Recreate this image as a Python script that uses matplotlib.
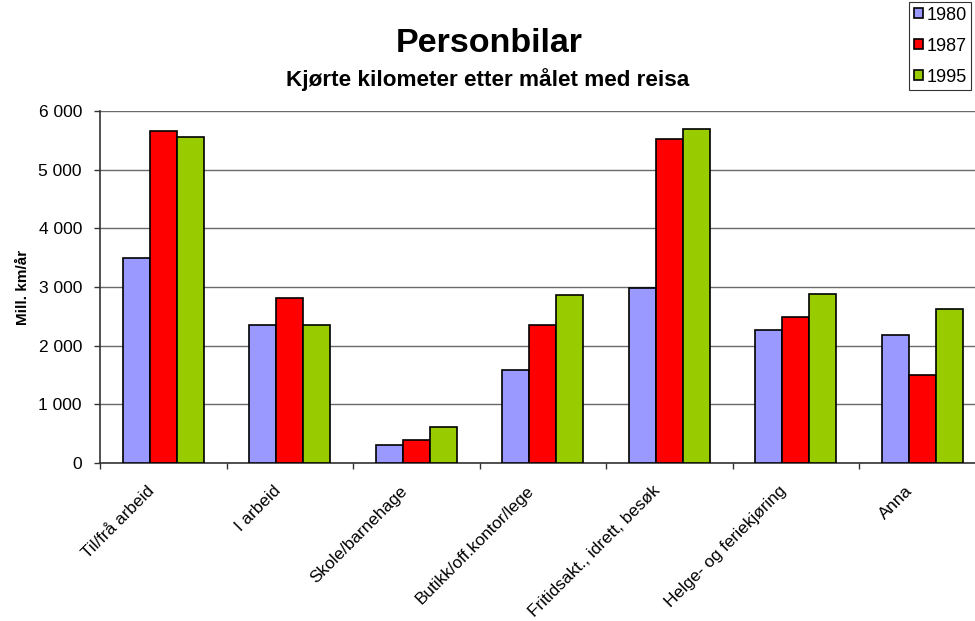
import numpy as np
import matplotlib.pyplot as plt
import matplotlib.transforms as mtransforms
from matplotlib.patches import Patch
from matplotlib.ticker import FuncFormatter

plt.rcParams['font.family'] = ['Liberation Sans', 'DejaVu Sans']

# data
categories = ['Til/frå arbeid', 'I arbeid', 'Skole/barnehage', 'Butikk/off.kontor/lege',
              'Fritidsakt., idrett, besøk', 'Helge- og feriekjøring', 'Anna']
years = ['1980', '1987', '1995']
v1980 = [3490, 2350, 310, 1590, 2990, 2270, 2190]
v1987 = [5660, 2810, 390, 2350, 5530, 2495, 1495]
v1995 = [5560, 2350, 610, 2860, 5700, 2885, 2620]
colors = ['#9999FF', '#FF0000', '#99CC00']

fig = plt.figure(figsize=(9.75, 6.21), dpi=100)
ax = fig.add_axes([100 / 975, 1 - 463 / 621, 885.5 / 975, 352 / 621])

x = np.arange(len(categories)) + 0.5
w = 0.213
for i, vals in enumerate([v1980, v1987, v1995]):
    ax.bar(x + (i - 1) * w, vals, width=w, color=colors[i], edgecolor='black',
           linewidth=1.2, zorder=3)

ax.set_xlim(0, len(categories))
ax.set_ylim(0, 6000)
ax.set_yticks(np.arange(0, 6001, 1000))
ax.yaxis.set_major_formatter(FuncFormatter(lambda v, p: f'{int(v):,}'.replace(',', ' ')))
ax.yaxis.grid(True, color='#6a6a6a', linewidth=1.0, zorder=0)

# kategorietiketter, skrått, litt til venstre for midten
ax.set_xticks(np.arange(len(categories) + 1))
ax.set_xticklabels([])
ax.tick_params(axis='x', length=4, width=1, color='#333333')
offset = mtransforms.ScaledTranslation(-17 / 100, -20 / 100, fig.dpi_scale_trans)
for xi, name in zip(x, categories):
    ax.text(xi, 0, name, transform=ax.get_xaxis_transform() + offset, rotation=45,
            ha='right', va='top', rotation_mode='anchor', fontsize=12.3)

ax.tick_params(axis='y', length=4, width=1, pad=9, labelsize=12.5, color='#333333')

for s in ['top', 'right']:
    ax.spines[s].set_visible(False)
ax.spines['left'].set_color('#333333')
ax.spines['bottom'].set_color('#333333')
ax.spines['left'].set_linewidth(1.2)
ax.spines['bottom'].set_linewidth(1.2)

ax.set_ylabel('Mill. km/år', fontsize=11, fontweight='bold')
ax.yaxis.set_label_coords(-0.0795, 0.5)

fig.text(489 / 975, 1 - 52 / 621, 'Personbilar', ha='center', va='baseline',
         fontsize=24.5, fontweight='bold')
fig.text(488 / 975, 1 - 86 / 621, 'Kjørte kilometer etter målet med reisa', ha='center',
         va='baseline', fontsize=16.2, fontweight='bold')

handles = [Patch(facecolor=c, edgecolor='black', linewidth=1.2) for c in colors]
leg = fig.legend(handles, years, loc='upper right', bbox_to_anchor=(971 / 975, 1 - 2 / 621),
                 fontsize=13, frameon=True, fancybox=False, handlelength=0.5,
                 handleheight=0.5, handletextpad=0.2, labelspacing=0.78,
                 borderpad=0.25, borderaxespad=0)
leg.get_frame().set_edgecolor('black')
leg.get_frame().set_linewidth(0.8)

fig.savefig('out.png', dpi=100)
